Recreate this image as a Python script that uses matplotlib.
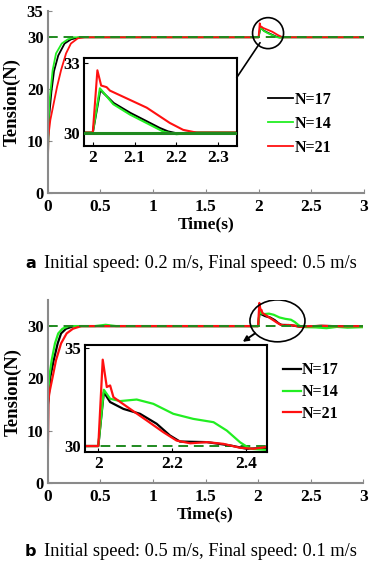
import matplotlib
matplotlib.use("Agg")
import matplotlib.pyplot as plt
from matplotlib.patches import Ellipse, ConnectionPatch

# ---- data ----
labels = ["N=17", "N=14", "N=21"]
colors = ["#000000", "#22ee22", "#ff1010"]
ref_level = 30

# panel a : 0.2 m/s -> 0.5 m/s
a_black_t = [0, 0.005, 0.015, 0.035, 0.06, 0.1, 0.16, 0.22, 0.3, 2.0, 2.018, 2.05, 2.09, 2.13, 2.16, 2.18, 2.2, 2.24, 3.0]
a_black_v = [2, 10, 15, 19.5, 23.5, 26.5, 28.8, 29.6, 30, 30, 31.85, 31.28, 30.85, 30.48, 30.2, 30.05, 29.97, 30, 30]
a_green_t = [0, 0.005, 0.015, 0.031, 0.047, 0.079, 0.133, 0.19, 0.25, 2.0, 2.017, 2.049, 2.089, 2.129, 2.169, 2.2, 2.24, 3.0]
a_green_v = [2, 10, 17.3, 20.5, 23.7, 26.9, 28.8, 29.6, 30, 30, 31.92, 31.23, 30.78, 30.41, 30.04, 29.93, 30, 30]
a_red_t = [0, 0.006, 0.025, 0.057, 0.089, 0.127, 0.174, 0.22, 0.285, 0.35, 2.0, 2.011, 2.02, 2.033, 2.041, 2.129, 2.184, 2.216, 2.248, 3.0]
a_red_v = [1.5, 10.9, 14.1, 17.3, 20.5, 23.7, 26.9, 28.8, 29.8, 30, 30, 32.7, 32.04, 31.97, 31.82, 31.08, 30.42, 30.12, 30, 30]

# panel b : 0.5 m/s -> 0.1 m/s
b_black_t = [0, 0.004, 0.025, 0.057, 0.095, 0.127, 0.174, 0.25, 1.0, 2.0, 2.015, 2.032, 2.068, 2.113, 2.158, 2.194, 2.221, 2.294, 2.357, 2.402, 2.456, 2.6, 2.8, 3.0]
b_black_v = [2, 15, 20.3, 23.5, 26.7, 28.6, 29.5, 30, 30, 30, 32.76, 32.25, 31.9, 31.65, 31.14, 30.54, 30.23, 30.2, 30.03, 29.86, 29.9, 30.05, 29.95, 30]
b_green_t = [0, 0.015, 0.038, 0.069, 0.1, 0.14, 0.2, 0.45, 0.55, 0.65, 2.0, 2.015, 2.032, 2.059, 2.104, 2.149, 2.203, 2.257, 2.312, 2.348, 2.384, 2.411, 2.456, 2.55, 2.65, 2.75, 2.85, 3.0]
b_green_v = [15, 20.3, 23.5, 26.7, 28.6, 29.5, 30, 30, 30.25, 30, 30, 32.88, 32.42, 32.3, 32.38, 32.16, 31.65, 31.39, 31.22, 30.79, 30.19, 29.86, 29.8, 29.75, 29.6, 29.85, 29.7, 29.8]
b_red_t = [0, 0.006, 0.015, 0.047, 0.079, 0.127, 0.18, 0.24, 0.32, 2.0, 2.012, 2.023, 2.032, 2.041, 2.086, 2.131, 2.176, 2.212, 2.249, 2.294, 2.339, 2.384, 2.42, 2.452, 2.6, 2.8, 3.0]
b_red_v = [2, 15.5, 17.2, 20.3, 23.5, 26.7, 28.6, 29.5, 30, 30, 34.42, 33.02, 33.1, 32.5, 31.9, 31.31, 30.71, 30.28, 30.14, 30.2, 30.11, 29.91, 29.86, 29.94, 30.05, 29.95, 30]

x_ticks = [0, 0.5, 1, 1.5, 2, 2.5, 3]
x_ticklabels = ["0", "0.5", "1", "1.5", "2", "2.5", "3"]
a_yticks = [0, 10, 20, 30, 35]
b_yticks = [0, 10, 20, 30]
a_inset_xticks = [2, 2.1, 2.2, 2.3]
a_inset_yticks = [30, 33]
b_inset_xticks = [2, 2.2, 2.4]
b_inset_yticks = [30, 35]

captions = [("a", "Initial speed: 0.2 m/s, Final speed: 0.5 m/s"),
            ("b", "Initial speed: 0.5 m/s, Final speed: 0.1 m/s")]

serif = "Liberation Serif"
W, H = 374, 563
fig = plt.figure(figsize=(W / 100, H / 100), dpi=100)


def fx(px):
    return px / W


def fy(py):
    return 1 - py / H


gray = "#8a8a8a"
dgreen = "#1f8a1f"


def style_ticks(ax, xsize, ysize):
    for lbl in ax.get_xticklabels():
        lbl.set_fontfamily(serif)
        lbl.set_fontweight("bold")
        lbl.set_fontsize(xsize)
    for lbl in ax.get_yticklabels():
        lbl.set_fontfamily(serif)
        lbl.set_fontweight("bold")
        lbl.set_fontsize(ysize)


def main_axes(box, series, yticks, lw):
    ax = fig.add_axes(box)
    lines = []
    for (t, v), c, lab in zip(series, colors, labels):
        ln, = ax.plot(t, v, color=c, lw=lw, label=lab)
        lines.append(ln)
    ax.axhline(ref_level, color=dgreen, lw=1.4, ls=(0, (5, 3)))
    ax.set_xlim(0, 3)
    ax.set_ylim(0, 35)
    ax.set_xticks(x_ticks)
    ax.set_xticklabels(x_ticklabels)
    ax.set_yticks(yticks)
    for s in ["top", "right"]:
        ax.spines[s].set_visible(False)
    for s in ["left", "bottom"]:
        ax.spines[s].set_color(gray)
        ax.spines[s].set_linewidth(1.5)
    ax.tick_params(direction="in", length=3, color=gray)
    ax.tick_params(axis="x", pad=4)
    ax.tick_params(axis="y", pad=3)
    style_ticks(ax, 12.5, 12)
    ax.set_xlabel("Time(s)", family=serif, weight="bold", fontsize=12.5, labelpad=1)
    ax.set_ylabel("Tension(N)", family=serif, weight="bold", fontsize=13.5, labelpad=4)
    return ax, lines


def inset_axes(box, series, xlim, ylim, xticks, yticks, dashed, lw):
    ax = fig.add_axes(box)
    for (t, v), c in zip(series, colors):
        ax.plot(t, v, color=c, lw=lw)
    if dashed:
        ax.axhline(ref_level, color=dgreen, lw=1.4, ls=(0, (5, 3)), zorder=1)
    else:
        ax.axhline(ref_level, color=dgreen, lw=2.2, zorder=3)
    ax.set_xlim(*xlim)
    ax.set_ylim(*ylim)
    ax.set_xticks(xticks)
    ax.set_xticklabels([f"{x:g}" for x in xticks])
    ax.set_yticks(yticks)
    for s in ax.spines.values():
        s.set_linewidth(1.5)
    ax.tick_params(direction="in", length=3, pad=3)
    style_ticks(ax, 12.5, 12)
    return ax


# ---------- panel a ----------
series_a = [(a_black_t, a_black_v), (a_green_t, a_green_v), (a_red_t, a_red_v)]
ax_a, lines_a = main_axes([fx(47.7), fy(193.3), fx(364) - fx(47.7), (193.3 - 11.3) / H], series_a, a_yticks, 1.3)
ax_a.add_patch(Ellipse((2.09, 30.8), 0.294, 5.96, fill=False, color="black", lw=1.2, zorder=5))
ins_a = inset_axes([fx(84), fy(146), fx(236.7) - fx(84), (146 - 58.3) / H], series_a,
                   (1.979, 2.344), (29.42, 33.22), a_inset_xticks, a_inset_yticks, False, 1.5)
con = ConnectionPatch(xyA=(2.014, 28.96), coordsA=ax_a.transData,
                      xyB=(1.0, 0.78), coordsB=ins_a.transAxes, color="black", lw=1.2)
fig.add_artist(con)
ax_a.legend(handles=lines_a, loc="upper left", bbox_to_anchor=(fx(268), fy(92)),
            bbox_transform=fig.transFigure, frameon=False, borderpad=0, borderaxespad=0,
            handlelength=1.55, handletextpad=0.1, labelspacing=0.5,
            prop={"family": serif, "weight": "bold", "size": 11.5})

# ---------- panel b ----------
series_b = [(b_black_t, b_black_v), (b_green_t, b_green_v), (b_red_t, b_red_v)]
ax_b, lines_b = main_axes([fx(47.7), fy(483.3), fx(363.3) - fx(47.7), (483.3 - 299.9) / H], series_b, b_yticks, 1.6)
ax_b.add_patch(Ellipse((2.184, 31.0), 0.523, 8.0, fill=False, color="black", lw=1.2, zorder=5))
ins_b = inset_axes([fx(85), fy(451.7), fx(266.7) - fx(85), (451.7 - 345) / H], series_b,
                   (1.964, 2.456), (29.71, 35.17), b_inset_xticks, b_inset_yticks, True, 1.6)
con = ConnectionPatch(xyA=(1.97, 28.6), coordsA=ax_b.transData,
                      xyB=(1.854, 27.0), coordsB=ax_b.transData, color="black", lw=1.4,
                      arrowstyle="-|>", mutation_scale=8)
fig.add_artist(con)
ax_b.legend(handles=lines_b, loc="upper left", bbox_to_anchor=(fx(283), fy(362.5)),
            bbox_transform=fig.transFigure, frameon=False, borderpad=0, borderaxespad=0,
            handlelength=1.1, handletextpad=0.1, labelspacing=0.36,
            prop={"family": serif, "weight": "bold", "size": 11.5})

# ---------- captions ----------
for (letter, text), py in zip(captions, [264, 551]):
    fig.text(fx(25), fy(py), letter, family="DejaVu Sans", weight="bold", fontsize=11.5, va="center")
    fig.text(fx(44), fy(py), text, family=serif, fontsize=13.2, va="center")

fig.savefig("out.png", dpi=100)
